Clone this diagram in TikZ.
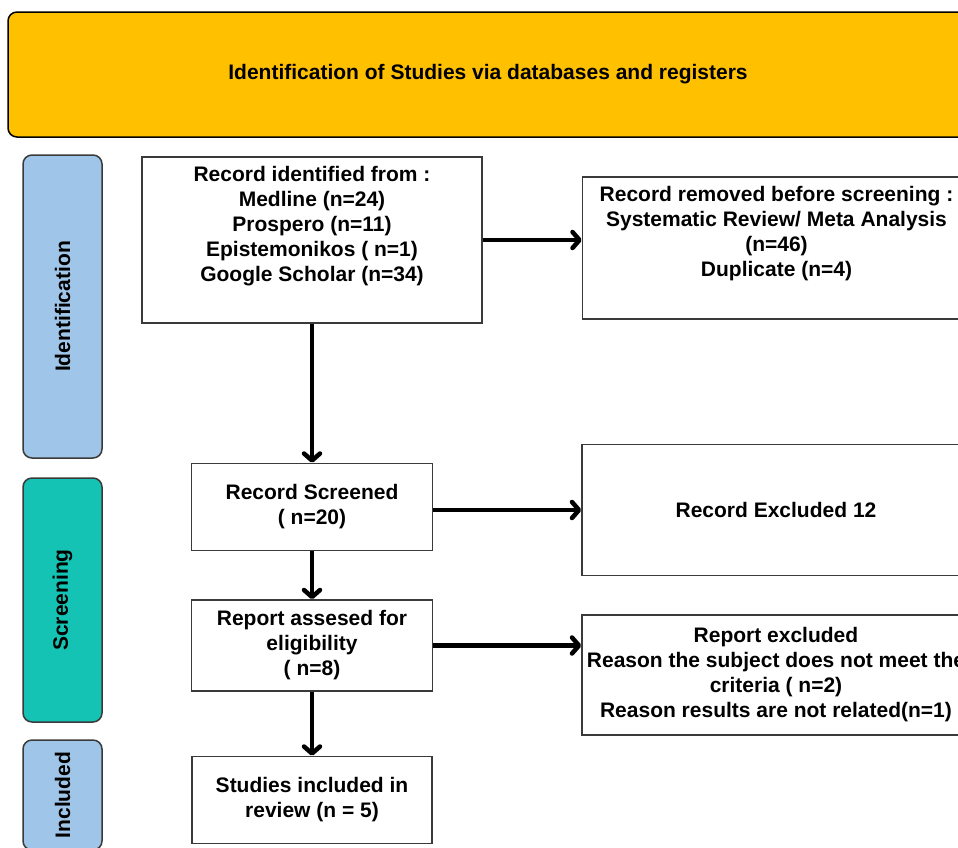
\documentclass[tikz,border=0pt]{standalone}
\usepackage{fontspec}
\setmainfont{Liberation Sans}
\usetikzlibrary{arrows.meta, positioning}
\definecolor{prismaAmber}{HTML}{FFC000}
\definecolor{prismaBlue}{HTML}{9FC5E8}
\definecolor{prismaTeal}{HTML}{14C3B3}
\definecolor{edgeGray}{HTML}{3A3A3A}
\newcommand{\prismaFont}{\bfseries\fontsize{21}{25}\selectfont}
\tikzset{
  arrowK/.style={-{Straight Barb[length=7pt, width=16pt, line join=round, line cap=round]},
                 black, line width=4.5pt},
  boxW/.style={rectangle, draw=edgeGray, line width=1.5pt, fill=white,
               align=center, font=\prismaFont, inner sep=0pt},
  phaseBox/.style={rectangle, rounded corners=9pt, draw=edgeGray, line width=1.5pt,
                   rotate=90, font=\prismaFont, inner sep=0pt, minimum height=79pt},
  bannerBox/.style={rectangle, rounded corners=9pt, draw=black, line width=1.5pt,
                    fill=prismaAmber, font=\prismaFont, inner sep=0pt},
}

\begin{document}
\begin{tikzpicture}[x=1pt, y=-1pt]
    \path[use as bounding box] (0,0) rectangle (958,847);
    \clip (0,0) rectangle (958,847);
    % banner and phase labels
    \node[bannerBox, minimum width=960pt, minimum height=125pt] (top) at (488,74.5)
         {Identification of Studies via databases and registers};
    \node[phaseBox, fill=prismaBlue, minimum width=303pt] (idf) at (62.5,306.5) {Identification};
    \node[phaseBox, fill=prismaTeal, minimum width=244pt] (scr) at (62.5,600) {Screening};
    \node[phaseBox, fill=prismaBlue, minimum width=110pt] (inc) at (62.5,795) {Included};
    % main column
    \node[boxW, minimum width=340pt, minimum height=166pt] (rec) at (312,240)
         {Record identified from :\\Medline (n=24)\\Prospero (n=11)\\Epistemonikos ( n=1)\\Google Scholar (n=34)\\ \strut};
    \node[boxW, below=139pt of rec, minimum width=241pt, minimum height=87pt] (scrd)
         {Record Screened\\( n=20)};
    \node[boxW, below=48pt of scrd, minimum width=241pt, minimum height=91pt] (elig)
         {Report assesed for\\eligibility\\( n=8)};
    \node[boxW, below=64pt of elig, minimum width=240pt, minimum height=87pt] (incl)
         {Studies included in\\review (n = 5)};
    % exclusions
    \node[boxW, right=99pt of rec, yshift=-8pt, minimum width=388pt, minimum height=142pt] (rem)
         {Record removed before screening :\\Systematic Review/ Meta Analysis\\(n=46)\\Duplicate (n=4)\\ \strut};
    \node[boxW, right=148pt of scrd, yshift=-3pt, minimum width=388pt, minimum height=131pt] (excl)
         {Record Excluded 12};
    \node[boxW, right=148pt of elig, yshift=-29.5pt, minimum width=388pt, minimum height=120pt] (rexc)
         {Report excluded\\Reason the subject does not meet the\\criteria ( n=2)\\Reason results are not related(n=1)};
    \draw[arrowK] (rec) -- (scrd); \draw[arrowK] (scrd) -- (elig);
    \draw[arrowK] (elig) -- (incl);
    \draw[arrowK] (rec.east) -- (rec.east -| rem.west);
    \draw[arrowK] ([yshift=-3pt]scrd.east) -- ([yshift=-3pt]scrd.east -| excl.west);
    \draw[arrowK] (elig.east) -- (elig.east -| rexc.west);
  \end{tikzpicture}
\end{document}
